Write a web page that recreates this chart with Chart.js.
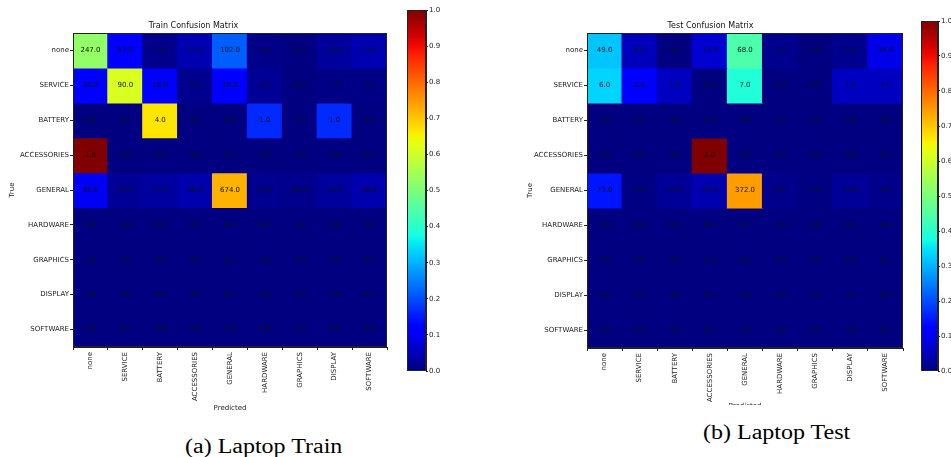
<!DOCTYPE html>
<html>
<head>
<meta charset="utf-8">
<script src="https://cdn.jsdelivr.net/npm/chart.js@4.4.1/dist/chart.umd.min.js"></script>
<style>
  html, body { margin: 0; padding: 0; background: #fff; }
  #page { position: relative; width: 951px; height: 457px; overflow: hidden; }
  .box { position: absolute; }
  .cap { position: absolute; font-family: "Liberation Serif", "DejaVu Serif", serif; font-size: 20px; line-height: 1; color: #000; white-space: nowrap; transform: scaleX(1.2); transform-origin: left top; }
</style>
</head>
<body>
<div id="page">
  <div class="box" style="left:0;top:0;width:400px;height:414px;"><canvas id="trainChart"></canvas></div>
  <div class="box" style="left:400px;top:0;width:45px;height:380px;"><canvas id="trainBar"></canvas></div>
  <div class="box" style="left:518px;top:0;width:389px;height:405px;overflow:hidden;"><div style="width:389px;height:414px;"><canvas id="testChart"></canvas></div></div>
  <div class="box" style="left:914px;top:0;width:37px;height:380px;"><canvas id="testBar"></canvas></div>
  <div class="cap" style="left:185px;top:436px;">(a) Laptop Train</div>
  <div class="cap" style="left:703px;top:422px;">(b) Laptop Test</div>
</div>
<script>
// Confusion matrices (rows = true class, columns = predicted class)

const classes = ["none", "SERVICE", "BATTERY", "ACCESSORIES", "GENERAL", "HARDWARE", "GRAPHICS", "DISPLAY", "SOFTWARE"];

const trainNone        = [247, 57, 5, 21, 102, 4, 0, 12, 21];
const trainService     = [16, 90, 16, 2, 18, 3, 0, 1, 1];
const trainBattery     = [0, 0, 4, 0, 0, 1, 0, 1, 0];
const trainAccessories = [1, 0, 0, 0, 0, 0, 0, 0, 0];
const trainGeneral     = [95, 19, 27, 36, 674, 13, 10, 24, 38];
const trainHardware    = [0, 0, 0, 0, 0, 0, 0, 0, 0];
const trainGraphics    = [0, 0, 0, 0, 0, 0, 0, 0, 0];
const trainDisplay     = [0, 0, 0, 0, 0, 0, 0, 0, 0];
const trainSoftware    = [0, 0, 0, 0, 0, 0, 0, 0, 0];

const testNone        = [49, 8, 0, 11, 68, 2, 0, 2, 14];
const testService     = [6, 2, 1, 0, 7, 0, 0, 1, 1];
const testBattery     = [0, 0, 0, 0, 0, 0, 0, 0, 0];
const testAccessories = [0, 0, 0, 2, 0, 0, 0, 0, 0];
const testGeneral     = [73, 2, 11, 20, 372, 5, 1, 11, 5];
const testHardware    = [0, 0, 0, 0, 0, 0, 0, 0, 0];
const testGraphics    = [0, 0, 0, 0, 0, 0, 0, 0, 0];
const testDisplay     = [0, 0, 0, 0, 0, 0, 0, 0, 0];
const testSoftware    = [0, 0, 0, 0, 0, 0, 0, 0, 0];

const colorbarTicks = [0, 0.1, 0.2, 0.3, 0.4, 0.5, 0.6, 0.7, 0.8, 0.9, 1.0];

const trainRows = [trainNone, trainService, trainBattery, trainAccessories, trainGeneral, trainHardware, trainGraphics, trainDisplay, trainSoftware];
const testRows  = [testNone, testService, testBattery, testAccessories, testGeneral, testHardware, testGraphics, testDisplay, testSoftware];

// matplotlib "jet"
function seg(pts, v) {
    for (var i = 1; i < pts.length; i++) {
        if (v <= pts[i][0]) {
            var a = pts[i - 1], b = pts[i];
            return a[1] + (b[1] - a[1]) * (v - a[0]) / (b[0] - a[0]);
        }
    }
    return pts[pts.length - 1][1];
}
function jet(v) {
    v = Math.max(0, Math.min(1, v));
    var r = seg([[0, 0], [0.35, 0], [0.66, 1], [0.89, 1], [1, 0.5]], v);
    var g = seg([[0, 0], [0.125, 0], [0.375, 1], [0.64, 1], [0.91, 0], [1, 0]], v);
    var b = seg([[0, 0.5], [0.11, 1], [0.34, 1], [0.65, 0], [1, 0]], v);
    return "rgb(" + Math.round(r * 255) + "," + Math.round(g * 255) + "," + Math.round(b * 255) + ")";
}

const tickFont = { family: "DejaVu Sans", size: 7 };

const framePlugin = {
    id: "frame",
    afterDraw: function (chart) {
        var c = chart.ctx, a = chart.chartArea;
        c.save();
        c.strokeStyle = "#222";
        c.lineWidth = 1;
        c.strokeRect(Math.round(a.left) + 0.5, Math.round(a.top) + 0.5, Math.round(a.right - a.left) - 1, Math.round(a.bottom - a.top) - 1);
        c.restore();
    }
};

function heatmap(id, title, rows, geom) {
    var datasets = rows.map(function (row, r) {
        var total = row.reduce(function (s, v) { return s + v; }, 0);
        return {
            label: classes[r],
            data: row.map(function () { return [r, r + 1]; }),
            backgroundColor: row.map(function (v) { return jet(total ? v / total : 0); }),
            borderWidth: 0,
            inflateAmount: 0.6,
            grouped: false,
            barPercentage: 1,
            categoryPercentage: 1
        };
    });

    var cellText = {
        id: "cellText",
        afterDatasetsDraw: function (chart) {
            var c = chart.ctx, xs = chart.scales.x, ys = chart.scales.y;
            c.save();
            c.font = "7px 'DejaVu Sans'";
            c.fillStyle = "#111";
            c.textAlign = "center";
            c.textBaseline = "middle";
            rows.forEach(function (row, r) {
                row.forEach(function (v, col) {
                    c.fillText(v.toFixed(1), xs.getPixelForValue(col), ys.getPixelForValue(r + 0.5));
                });
            });
            c.restore();
        }
    };

    new Chart(document.getElementById(id), {
        type: "bar",
        data: { labels: classes, datasets: datasets },
        options: {
            responsive: true,
            maintainAspectRatio: false,
            animation: false,
            layout: { padding: { left: 0, top: 0, right: geom.right, bottom: 0 } },
            plugins: {
                legend: { display: false },
                tooltip: { enabled: false },
                title: { display: true, text: title, color: "#111", font: { family: "DejaVu Sans", size: 8, weight: "normal" }, padding: { top: 21, bottom: 2.4 } }
            },
            scales: {
                x: {
                    ticks: { color: "#222", font: tickFont, minRotation: 90, maxRotation: 90, autoSkip: false, padding: 2 },
                    grid: { display: true, drawOnChartArea: false, tickLength: 3, color: "#222" },
                    border: { color: "#222" },
                    title: { display: true, text: "Predicted", color: "#222", font: tickFont, padding: { top: 0, bottom: geom.tb } },
                    afterFit: function (s) { s.height = geom.xh; }
                },
                y: {
                    min: 0, max: 9, reverse: true,
                    afterBuildTicks: function (s) { s.ticks = classes.map(function (_, i) { return { value: i + 0.5 }; }); },
                    ticks: { color: "#222", font: tickFont, padding: 1, callback: function (v) { return classes[Math.floor(v)]; } },
                    grid: { display: true, drawOnChartArea: false, tickLength: 3, color: "#222" },
                    border: { color: "#222" },
                    title: { display: true, text: "True", color: "#222", font: tickFont, padding: 8 },
                    afterFit: function (s) { s.width = geom.yw; }
                }
            }
        },
        plugins: [cellText, framePlugin]
    });
}

function colorbar(id, geom) {
    new Chart(document.getElementById(id), {
        type: "bar",
        data: {
            labels: [""],
            datasets: [{
                data: [1],
                borderWidth: 0,
                barPercentage: 1,
                categoryPercentage: 1,
                backgroundColor: function (ctx) {
                    var a = ctx.chart.chartArea;
                    if (!a) return "#00007f";
                    var g = ctx.chart.ctx.createLinearGradient(0, a.bottom, 0, a.top);
                    for (var i = 0; i <= 40; i++) g.addColorStop(i / 40, jet(i / 40));
                    return g;
                }
            }]
        },
        options: {
            responsive: true,
            maintainAspectRatio: false,
            animation: false,
            layout: { padding: { left: geom.left, top: geom.top, bottom: geom.bottom, right: 0 } },
            plugins: { legend: { display: false }, tooltip: { enabled: false } },
            scales: {
                x: { display: false },
                y: {
                    position: "right",
                    min: 0, max: 1,
                    afterBuildTicks: function (s) { s.ticks = colorbarTicks.map(function (v) { return { value: v }; }); },
                    ticks: { color: "#222", font: tickFont, padding: 1, callback: function (v) { return v.toFixed(1); } },
                    grid: { display: true, drawOnChartArea: false, tickLength: 2, color: "#222" },
                    border: { color: "#222" },
                    afterFit: function (s) { s.width = geom.w; }
                }
            }
        },
        plugins: [framePlugin]
    });
}

heatmap("trainChart", "Train Confusion Matrix", trainRows, { right: 13, xh: 67, yw: 73, tb: 2 });
heatmap("testChart", "Test Confusion Matrix", testRows, { right: 4, xh: 66, yw: 69, tb: 4 });
colorbar("trainBar", { left: 7, top: 10, bottom: 9, w: 19 });
colorbar("testBar", { left: 7, top: 21, bottom: 9, w: 13 });
</script>
</body>
</html>
